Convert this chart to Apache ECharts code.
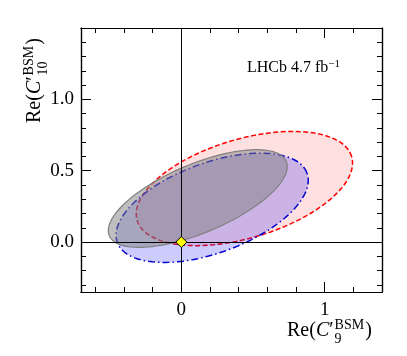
<!DOCTYPE html>
<html>
<head>
<meta charset="utf-8">
<script src="https://cdn.jsdelivr.net/npm/echarts@6/dist/echarts.min.js"></script>
<style>
  html, body { margin: 0; padding: 0; background: #fff; }
  #chart { width: 407px; height: 356px; }
</style>
</head>
<body>
<div id="chart"></div>
<script>
// axis ranges and tick positions
const xRange = [-0.7, 1.4];
const yRange = [-0.35, 1.5];
const xMajor = [0, 1];
const xMinor = [-0.6, -0.4, -0.2, 0.2, 0.4, 0.6, 0.8, 1.2];
const yMajor = [0, 0.5, 1.0];
const yMinor = [-0.3, -0.2, -0.1, 0.1, 0.2, 0.3, 0.4, 0.6, 0.7, 0.8, 0.9, 1.1, 1.2, 1.3, 1.4];

// contours: centre, semi-axes, tilt (deg)
// order: red dashed, blue dash-dot, grey solid
const centres = [[0.44, 0.375], [0.215, 0.24], [0.115, 0.305]];
const semiAxes = [[0.781, 0.346], [0.705, 0.315], [0.670, 0.241]];
const tilts = [16.7, 20.2, 22.9];

// SM point
const smPoint = [[0, 0]];

const SERIF = '"Liberation Serif", "DejaVu Serif", serif';

// canvas for measuring text pieces of the math labels
const ctx = document.createElement('canvas').getContext('2d');
function fontStr(size, italic) {
  return (italic ? 'italic ' : '') + size + 'px ' + SERIF;
}

/**
 * lay out a label made of pieces (base text, super/subscripts)
 * baseline of base text is at local y = 0
 */
function mathText(items) {
  let x = 0, stackX = 0;
  const children = [];
  items.forEach(function (p) {
    ctx.font = fontStr(p.s, p.it);
    const w = ctx.measureText(p.t).width;
    const x0 = p.stack ? stackX : x;
    if (!p.stack) stackX = x0;
    children.push({
      type: 'text',
      x: x0,
      y: -(p.rise || 0),
      style: {
        text: p.t,
        fontSize: p.s,
        fontFamily: SERIF,
        fontStyle: p.it ? 'italic' : 'normal',
        fill: '#000',
        verticalAlign: 'bottom'
      }
    });
    x = Math.max(x, x0 + w + (p.gap || 0));
  });
  return children;
}

const xLabel = mathText([
  { t: 'Re(', s: 20 },
  { t: 'C', s: 20, it: true },
  { t: '′', s: 20, gap: 1 },
  { t: 'BSM', s: 14, rise: 9, gap: 1 },
  { t: '9', s: 14, rise: -5, stack: true },
  { t: ')', s: 20 }
]);

const yLabel = mathText([
  { t: 'Re(', s: 20 },
  { t: 'C', s: 20, it: true },
  { t: '′', s: 20, gap: 1 },
  { t: 'BSM', s: 14, rise: 9, gap: 1 },
  { t: '10', s: 14, rise: -5, stack: true },
  { t: ')', s: 20 }
]);

const lumiLabel = mathText([
  { t: 'LHCb 4.7 fb', s: 16 },
  { t: '−1', s: 11, rise: 6 }
]);

function ellipseItem(params, api) {
  const cx = api.value(0), cy = api.value(1);
  const a = api.value(2), b = api.value(3);
  const th = api.value(4) * Math.PI / 180;
  const pts = [];
  const n = 120;
  for (let i = 0; i < n; i++) {
    const t = 2 * Math.PI * i / n;
    const ex = a * Math.cos(t), ey = b * Math.sin(t);
    pts.push(api.coord([
      cx + ex * Math.cos(th) - ey * Math.sin(th),
      cy + ex * Math.sin(th) + ey * Math.cos(th)
    ]));
  }
  return {
    type: 'polygon',
    shape: { points: pts },
    style: api.style()
  };
}

const contourStyles = [
  { fill: 'rgba(255,0,0,0.12)', stroke: '#ff0000', lineWidth: 1.5, lineDash: [5, 2.5] },
  { fill: 'rgba(0,0,255,0.2)', stroke: '#0000cc', lineWidth: 1.5, lineDash: [7, 3, 1.5, 3] },
  { fill: 'rgba(128,128,128,0.5)', stroke: '#808080', lineWidth: 1.2, lineDash: null }
];

function contourSeries(i) {
  return {
    type: 'custom',
    xAxisIndex: 0,
    yAxisIndex: 0,
    z: 2 + i,
    silent: true,
    renderItem: function (params, api) {
      const el = ellipseItem(params, api);
      el.style = contourStyles[i];
      return el;
    },
    data: [[centres[i][0], centres[i][1], semiAxes[i][0], semiAxes[i][1], tilts[i]]]
  };
}

function xAxisOf(pos, ticks, len, labels) {
  return {
    type: 'value',
    position: pos,
    min: xRange[0],
    max: xRange[1],
    axisLine: { show: true, onZero: false, lineStyle: { color: '#000', width: 1.2 } },
    axisTick: { show: true, inside: true, length: len, customValues: ticks, lineStyle: { color: '#000', width: 1 } },
    axisLabel: labels ? {
      show: true, customValues: ticks, margin: 9, color: '#000',
      fontSize: 19, fontFamily: SERIF,
      formatter: function (v) { return String(v); }
    } : { show: false },
    splitLine: { show: false }
  };
}

function yAxisOf(pos, ticks, len, labels) {
  return {
    type: 'value',
    position: pos,
    min: yRange[0],
    max: yRange[1],
    axisLine: { show: true, onZero: false, lineStyle: { color: '#000', width: 1.2 } },
    axisTick: { show: true, inside: true, length: len, customValues: ticks, lineStyle: { color: '#000', width: 1 } },
    axisLabel: labels ? {
      show: true, customValues: ticks, margin: 7, color: '#000',
      fontSize: 19, fontFamily: SERIF,
      formatter: function (v) { return v.toFixed(1); }
    } : { show: false },
    splitLine: { show: false }
  };
}

const chart = echarts.init(document.getElementById('chart'), null, { renderer: 'canvas' });

chart.setOption({
  animation: false,
  backgroundColor: '#fff',
  grid: { left: 81, right: 25, top: 28, bottom: 64 },
  xAxis: [
    xAxisOf('bottom', xMajor, 10, true),
    xAxisOf('bottom', xMinor, 5, false),
    xAxisOf('top', xMajor, 10, false),
    xAxisOf('top', xMinor, 5, false)
  ],
  yAxis: [
    yAxisOf('left', yMajor, 10, true),
    yAxisOf('left', yMinor, 5, false),
    yAxisOf('right', yMajor, 10, false),
    yAxisOf('right', yMinor, 5, false)
  ],
  graphic: [
    { type: 'group', x: 287, y: 341, children: xLabel },
    { type: 'group', x: 45, y: 123, rotation: Math.PI / 2, children: yLabel },
    { type: 'group', x: 247, y: 76, children: lumiLabel }
  ],
  series: [
    contourSeries(0),
    contourSeries(1),
    contourSeries(2),
    {
      // zero lines
      type: 'scatter',
      xAxisIndex: 0,
      yAxisIndex: 0,
      z: 6,
      data: [],
      markLine: {
        silent: true,
        symbol: 'none',
        label: { show: false },
        lineStyle: { color: '#000', width: 1, type: 'solid' },
        data: [{ xAxis: 0 }, { yAxis: 0 }]
      }
    },
    {
      type: 'scatter',
      xAxisIndex: 0,
      yAxisIndex: 0,
      z: 8,
      symbol: 'diamond',
      symbolSize: 11,
      itemStyle: { color: '#ffff00', borderColor: '#000', borderWidth: 1, opacity: 1 },
      data: smPoint
    }
  ]
});
</script>
</body>
</html>
